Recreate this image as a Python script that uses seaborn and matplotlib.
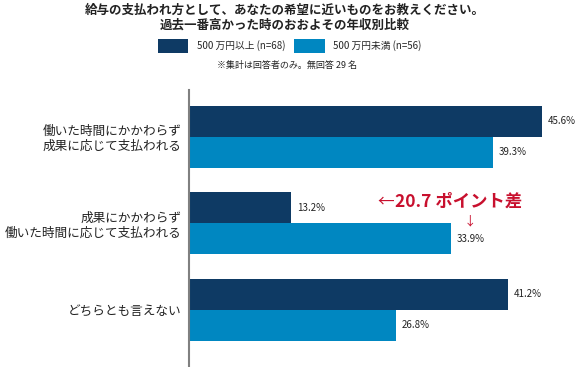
import matplotlib
matplotlib.use("Agg")
import matplotlib.pyplot as plt
import seaborn as sns
import pandas as pd

categories = ["働いた時間にかかわらず\n成果に応じて支払われる",
              "成果にかかわらず\n働いた時間に応じて支払われる",
              "どちらとも言えない"]
series_names = ["500 万円以上 (n=68)", "500 万円未満 (n=56)"]
high_income = [45.6, 13.2, 41.2]
low_income = [39.3, 33.9, 26.8]
title = "給与の支払われ方として、あなたの希望に近いものをお教えください。\n過去一番高かった時のおおよその年収別比較"
note = "※集計は回答者のみ。無回答 29 名"
annotation = "20.7 ポイント差"

colors = ["#0e3a64", "#0087c1"]
red = "#c8102e"

sns.set_theme(style="white")
plt.rcParams['font.family'] = ['Noto Sans CJK JP', 'DejaVu Sans']

df = pd.DataFrame({
    "cat": categories * 2,
    "val": high_income + low_income,
    "grp": [series_names[0]] * 3 + [series_names[1]] * 3,
})

fig = plt.figure(figsize=(5.82, 3.67), dpi=100)
ax = fig.add_axes([189/582, 0, 1 - 189/582, 1 - 90/367])
sns.barplot(data=df, y="cat", x="val", hue="grp", hue_order=series_names,
            palette=colors, width=0.72, gap=0, orient="h", ax=ax,
            saturation=1, edgecolor="none", linewidth=0)
for c in ax.containers:
    ax.bar_label(c, fmt="%.1f%%", padding=4, fontsize=7, color="#222222")

leg = ax.get_legend()
handles, labels = ax.get_legend_handles_labels()
if leg is not None:
    leg.remove()
fig.legend(handles, labels, loc="center", bbox_to_anchor=(290/582, 1 - 46/367),
           ncol=2, frameon=False, fontsize=7, handlelength=3.1, handleheight=1.85,
           handletextpad=0.9, columnspacing=0.9)

ax.set_xlim(0, 50.8)
ax.set_ylim(2.66, -0.54)
ax.set_xlabel("")
ax.set_ylabel("")
ax.set_xticks([])
ax.tick_params(axis="y", length=0, pad=5.5, labelsize=9.1, labelcolor="#222222")
for s in ["top", "right", "bottom"]:
    ax.spines[s].set_visible(False)
ax.spines["left"].set_color("#808080")
ax.spines["left"].set_linewidth(1.5)

fig.text(285/582, 1 - 18/367, title, ha="center", va="center", fontsize=9,
         fontweight="bold", color="#222222", linespacing=1.2)
fig.text(287/582, 1 - 65/367, note, ha="center", va="center", fontsize=6.5, color="#222222")

ax.text(24.3, 0.75, "←", ha="left", va="center", fontsize=12, color=red)
ax.text(26.6, 0.75, annotation, ha="left", va="center", fontsize=12.5,
        fontweight="bold", color=red)
ax.text(36.3, 0.97, "↓", ha="center", va="center", fontsize=9, color=red)

fig.savefig("out.png", dpi=100)
